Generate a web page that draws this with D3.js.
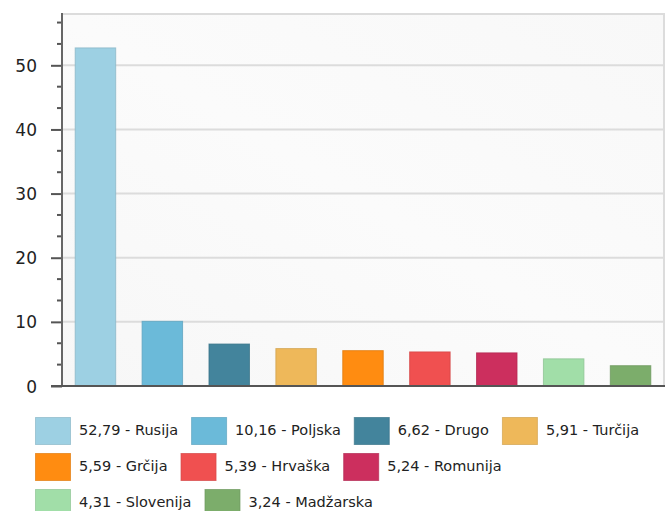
<!DOCTYPE html>
<html><head><meta charset="utf-8">
<script src="https://cdn.jsdelivr.net/npm/d3@7"></script>
<style>
html,body{margin:0;padding:0;background:#fff;}
svg{display:block;}
</style></head>
<body>
<svg id="chart" width="667" height="511"></svg>
<script>
const categories = ["Rusija","Poljska","Drugo","Turčija","Grčija","Hrvaška","Romunija","Slovenija","Madžarska"];
const values = [52.79,10.16,6.62,5.91,5.59,5.39,5.24,4.31,3.24];
const colors = ["#9dd0e3","#6bbad9","#43849c","#eeb85a","#ff8c11","#f05050","#cc2f5e","#a1dea8","#7cad6b"];
const yTicks = [0,10,20,30,40,50];

const svg = d3.select("#chart");
const m = {left:62, top:14, right:664, bottom:386};

const defs = svg.append("defs");
const grad = defs.append("linearGradient").attr("id","bg").attr("x1","0%").attr("y1","100%").attr("x2","100%").attr("y2","0%");
grad.append("stop").attr("offset","0%").attr("stop-color","#f7f7f7");
grad.append("stop").attr("offset","50%").attr("stop-color","#fbfbfb");
grad.append("stop").attr("offset","100%").attr("stop-color","#f8f8f8");

const x = d3.scaleBand().domain(categories).range([m.left, m.right]).paddingInner(0.38).paddingOuter(0.19);
const y = d3.scaleLinear().domain([0,58]).range([m.bottom, m.top]);

svg.append("rect").attr("x",m.left).attr("y",m.top).attr("width",m.right-m.left).attr("height",m.bottom-m.top)
  .attr("fill","url(#bg)").attr("stroke","#dcdcdc").attr("stroke-width",2);

svg.append("g").selectAll("line").data(yTicks.filter(d=>d>0)).join("line")
  .attr("x1",m.left).attr("x2",m.right).attr("y1",d=>y(d)).attr("y2",d=>y(d))
  .attr("stroke","#dcdcdc").attr("stroke-width",2);

svg.append("g").selectAll("rect").data(values).join("rect")
  .attr("x",(d,i)=>x(categories[i])+0.5)
  .attr("y",d=>y(d)+0.5)
  .attr("width",x.bandwidth()-1)
  .attr("height",d=>y(0)-y(d)-0.5)
  .attr("fill",(d,i)=>colors[i])
  .attr("stroke",(d,i)=>d3.color(colors[i]).darker(0.35))
  .attr("stroke-opacity",0.8)
  .attr("stroke-width",1);

const yAxis = d3.axisLeft(y).tickValues(yTicks).tickSize(11).tickPadding(14).tickFormat(d3.format("d"));
const ga = svg.append("g").attr("transform",`translate(${m.left},0)`).call(yAxis);
ga.select(".domain").remove();
ga.selectAll(".tick line").attr("stroke","#555").attr("stroke-width",2);
ga.selectAll(".tick text").attr("fill","#222").attr("font-family","DejaVu Sans, Verdana, sans-serif").attr("font-size",17).attr("dy","0.36em");

const minor = d3.range(1,18).map(i=>i*10/3).filter(v=>Math.abs(v/10-Math.round(v/10))>0.01 && v<58);
svg.append("g").selectAll("line").data(minor).join("line")
  .attr("x1",m.left-5).attr("x2",m.left).attr("y1",d=>y(d)).attr("y2",d=>y(d))
  .attr("stroke","#555").attr("stroke-width",2);

svg.append("line").attr("x1",m.left).attr("x2",m.left).attr("y1",m.top-1).attr("y2",m.bottom)
  .attr("stroke","#666").attr("stroke-width",2);
svg.append("line").attr("x1",m.left-11).attr("x2",m.right+1).attr("y1",m.bottom).attr("y2",m.bottom)
  .attr("stroke","#555").attr("stroke-width",2);

const fmt = v => d3.format(".2f")(v).replace(".",",");
const lg = svg.append("g").attr("font-family","DejaVu Sans, Verdana, sans-serif").attr("font-size",14.5).attr("fill","#222");
const sw = 35, sh = 27, gapT = 9, gapI = 13, rowH = 36, x0 = 35, y0 = 417, maxX = 655;
let cx = x0, cy = y0;
categories.forEach((c,i)=>{
  const label = fmt(values[i]) + " - " + c;
  const t = lg.append("text").text(label).attr("dy","0.35em");
  const tw = t.node().getComputedTextLength();
  if (cx + sw + gapT + tw > maxX) { cx = x0; cy += rowH; }
  lg.append("rect").attr("x",cx+0.5).attr("y",cy+0.5).attr("width",sw).attr("height",sh)
    .attr("fill",colors[i]).attr("stroke",d3.color(colors[i]).darker(0.35)).attr("stroke-opacity",0.7);
  t.attr("x",cx+sw+gapT).attr("y",cy+sh/2-0.5);
  cx += sw + gapT + tw + gapI;
});
</script>
</body></html>
